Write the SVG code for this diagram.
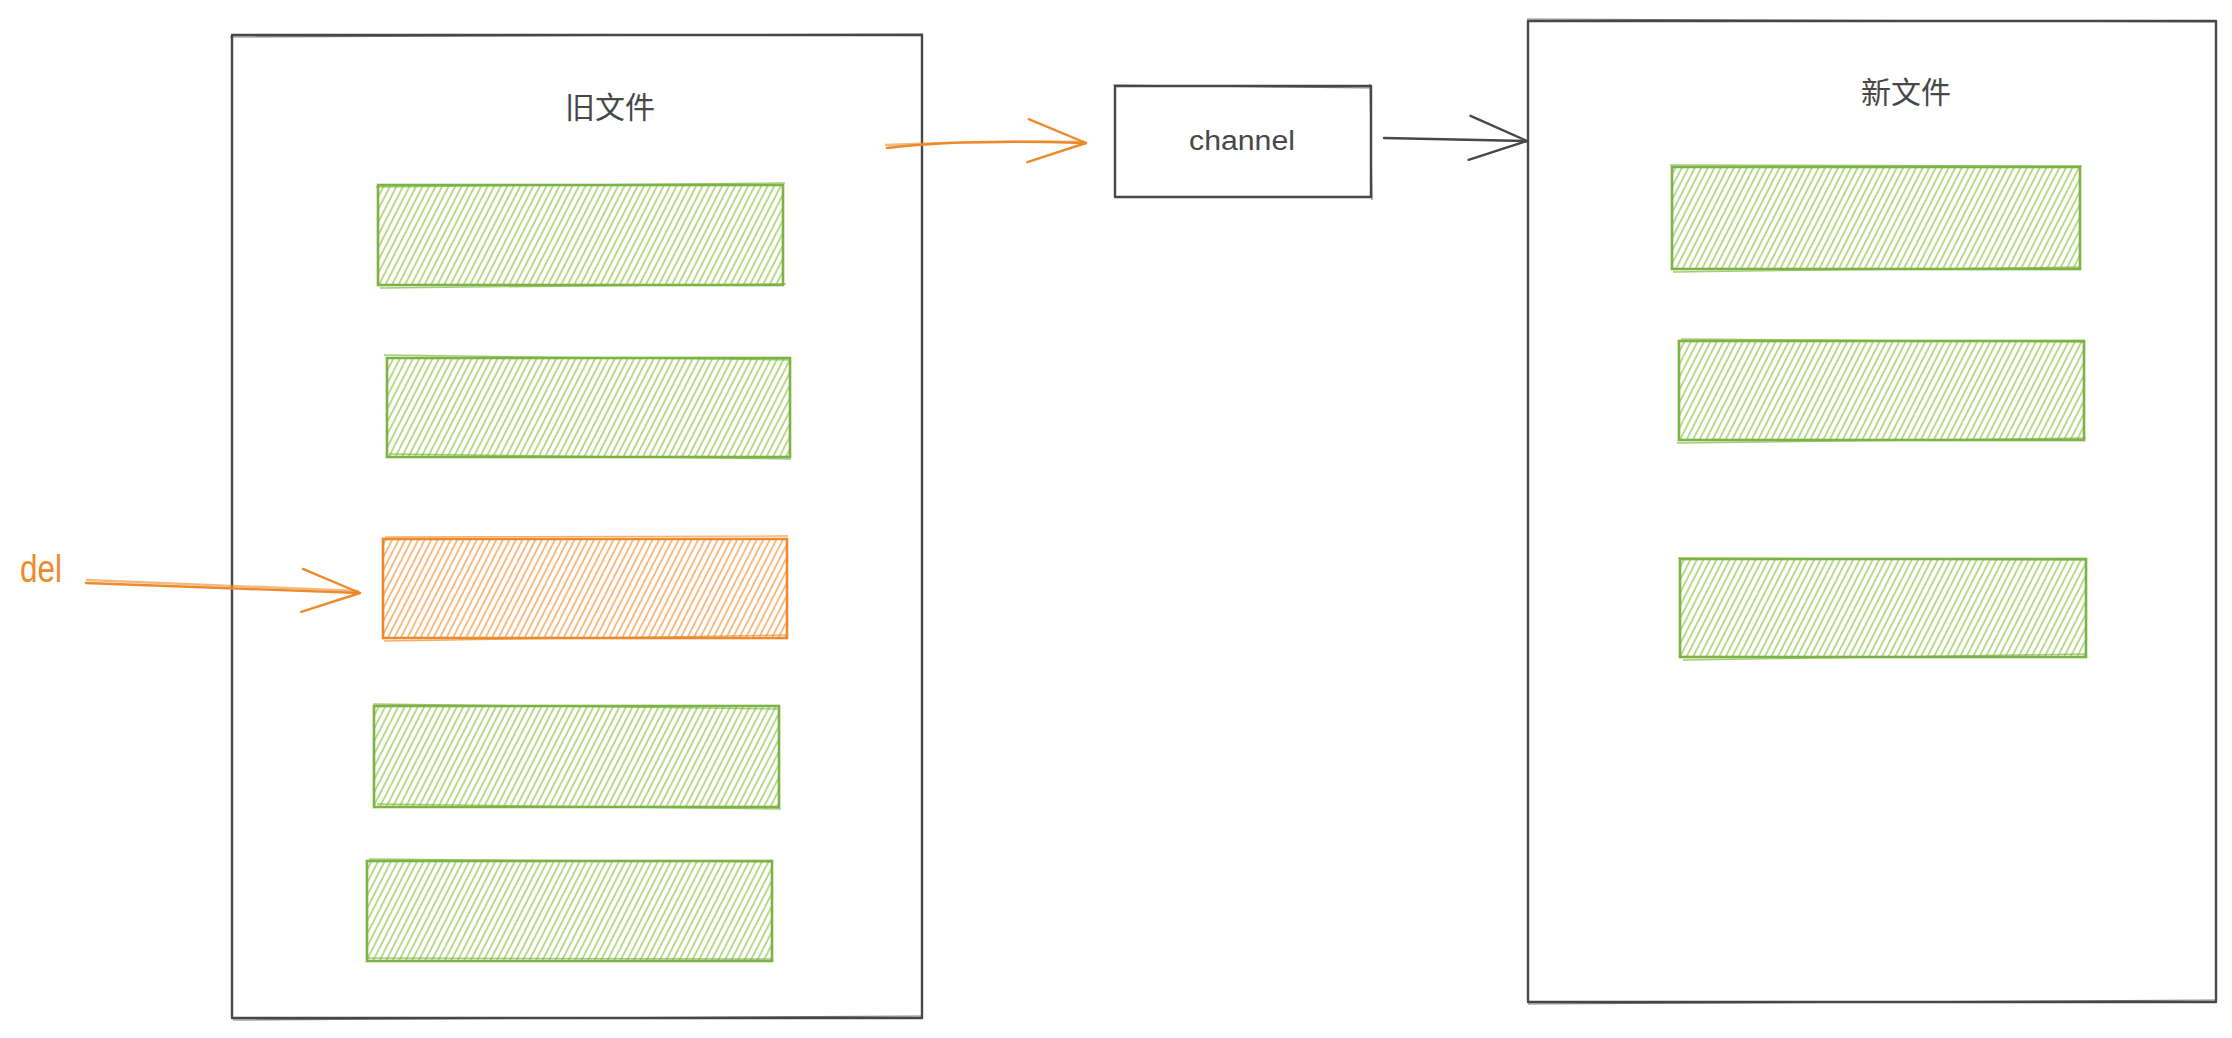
<svg xmlns="http://www.w3.org/2000/svg" width="2232" height="1038" viewBox="0 0 2232 1038">
<style>
.frame{fill:#fff;stroke:#474747;stroke-width:2.4;stroke-linejoin:round}
.frame2{fill:none;stroke:#474747;stroke-width:1.2;opacity:.7}
.green{fill:url(#hg);stroke:#7cb342;stroke-width:2.6}
.green2{fill:none;stroke:#7cb342;stroke-width:1.3;opacity:.7}
.orange{fill:url(#ho);stroke:#ec8a2c;stroke-width:2.6}
.orange2{fill:none;stroke:#ec8a2c;stroke-width:1.3;opacity:.7}
.cjk{font-family:"Noto Sans CJK SC","Noto Sans",sans-serif;font-size:30px;fill:#474747;text-anchor:middle}
.hand{font-family:"Liberation Sans",Arial,sans-serif}
.line-o{fill:none;stroke:#ec8a2c;stroke-width:2.4;stroke-linecap:round}
.line-d{fill:none;stroke:#474747;stroke-width:2.4;stroke-linecap:round}
</style>
<defs>
<pattern id="hg" patternUnits="userSpaceOnUse" width="5.8" height="20" patternTransform="rotate(27)">
<line x1="2.9" y1="0" x2="2.9" y2="20" stroke="#94c84e" stroke-width="1.3"/>
</pattern>
<pattern id="ho" patternUnits="userSpaceOnUse" width="5.8" height="20" patternTransform="rotate(27)">
<line x1="2.9" y1="0" x2="2.9" y2="20" stroke="#f09a45" stroke-width="1.3"/>
</pattern>
<marker id="arr-o" markerUnits="userSpaceOnUse" viewBox="-62 -26 66 52" markerWidth="66" markerHeight="52" refX="0" refY="0" orient="auto">
<path d="M-58,-22 L0,0 L-58,21" fill="none" stroke="#ec8a2c" stroke-width="2.4" stroke-linecap="round" stroke-linejoin="round"/>
</marker>
<marker id="arr-d" markerUnits="userSpaceOnUse" viewBox="-62 -26 66 52" markerWidth="66" markerHeight="52" refX="0" refY="0" orient="auto">
<path d="M-57,-24 L0,0 L-58,20" fill="none" stroke="#474747" stroke-width="2.4" stroke-linecap="round" stroke-linejoin="round"/>
</marker>
</defs>
<rect width="2232" height="1038" fill="#fff"/>

<g id="old-file">
<rect class="frame" x="232" y="35" width="690" height="983"/>
<path class="frame2" d="M230,37 L923,34 M233,1020 L921,1016"/>
<text class="cjk" x="610" y="118">旧文件</text>
</g>

<g id="old-block-1">
<rect class="green" x="378" y="185" width="405" height="100"/>
<path class="green2" d="M376,187 L785,183 M380,288 L786,284"/>
</g>
<g id="old-block-2">
<rect class="green" x="387" y="358" width="403" height="99"/>
<path class="green2" d="M384,355 L789,360 M389,454 L791,459"/>
</g>
<g id="old-block-del">
<rect class="orange" x="383" y="539" width="404" height="99"/>
<path class="orange2" d="M385,537 L788,536 M384,641 L787,635"/>
</g>
<g id="old-block-3">
<rect class="green" x="374" y="706" width="405" height="101"/>
<path class="green2" d="M373,704 L780,709 M377,804 L781,809"/>
</g>
<g id="old-block-4">
<rect class="green" x="367" y="861" width="405" height="100"/>
<path class="green2" d="M369,859 L771,862 M366,958 L773,959"/>
</g>

<g id="channel">
<rect class="frame" x="1115" y="86" width="256" height="111"/>
<path class="frame2" d="M1113,85 L1372,88 M1370,84 L1372,200"/>
<text class="hand" x="1189" y="150" font-size="27" fill="#474747" textLength="106" lengthAdjust="spacingAndGlyphs">channel</text>
</g>

<g id="new-file">
<rect class="frame" x="1528" y="21" width="688" height="981"/>
<path class="frame2" d="M1527,19 L2217,22 M1528,1004 L2216,1000"/>
<text class="cjk" x="1906" y="103">新文件</text>
</g>

<g id="new-block-1">
<rect class="green" x="1672" y="167" width="408" height="102"/>
<path class="green2" d="M1670,165 L2082,166 M1673,272 L2079,267"/>
</g>
<g id="new-block-2">
<rect class="green" x="1679" y="341" width="405" height="99"/>
<path class="green2" d="M1681,339 L2085,342 M1677,443 L2086,438"/>
</g>
<g id="new-block-3">
<rect class="green" x="1680" y="559" width="406" height="98"/>
<path class="green2" d="M1678,558 L2087,560 M1683,660 L2085,654"/>
</g>

<g id="del-label">
<text class="hand" x="20" y="582" font-size="38" fill="#ec8a2c" textLength="42" lengthAdjust="spacingAndGlyphs">del</text>
</g>

<g id="connectors">
<path class="line-o" d="M887,148 Q960,139 1086,143" marker-end="url(#arr-o)"/>
<path class="line-o" d="M886,145 Q965,141 1084,142" opacity=".6"/>
<path class="line-o" d="M86,583 L360,593" marker-end="url(#arr-o)"/>
<path class="line-o" d="M87,580 L358,591" opacity=".6"/>
<path class="line-d" d="M1384,138 L1527,141" marker-end="url(#arr-d)"/>
</g>
</svg>
